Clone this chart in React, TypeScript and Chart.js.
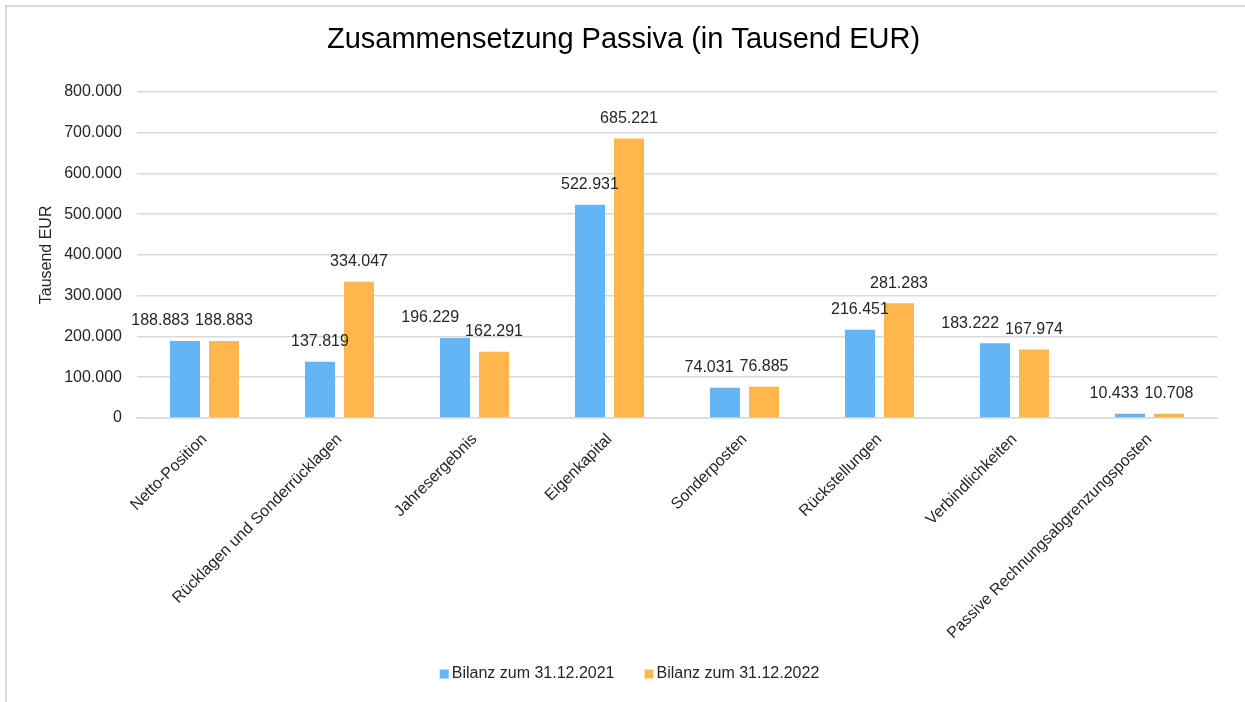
import React, { useEffect, useRef } from "react";
import { Chart, registerables } from "chart.js";

Chart.register(...registerables);

const chartTitle = "Zusammensetzung Passiva (in Tausend EUR)";
const yAxisTitle = "Tausend EUR";
const categories = [
  "Netto-Position",
  "Rücklagen und Sonderrücklagen",
  "Jahresergebnis",
  "Eigenkapital",
  "Sonderposten",
  "Rückstellungen",
  "Verbindlichkeiten",
  "Passive Rechnungsabgrenzungsposten",
];
const seriesNames = ["Bilanz zum 31.12.2021", "Bilanz zum 31.12.2022"];
const values2021 = [188883, 137819, 196229, 522931, 74031, 216451, 183222, 10433];
const values2022 = [188883, 334047, 162291, 685221, 76885, 281283, 167974, 10708];
const yMin = 0;
const yMax = 800000;
const yStep = 100000;

const FONT = "'Liberation Sans', Arial, Helvetica, sans-serif";
const TEXT = "#262626";
const COLORS = ["#64B5F6", "#FFB74D"];

const fmt = (v: number) =>
  Math.round(v).toString().replace(/\B(?=(\d{3})+(?!\d))/g, ".");

const dataLabelPlugin = {
  id: "dataLabels",
  afterDatasetsDraw(chart: any) {
    const ctx = chart.ctx;
    ctx.save();
    ctx.font = `16px ${FONT}`;
    ctx.fillStyle = TEXT;
    ctx.textAlign = "center";
    ctx.textBaseline = "middle";
    const n = chart.data.labels.length;
    for (let i = 0; i < n; i++) {
      const items = chart.data.datasets.map((ds: any, d: number) => {
        const el = chart.getDatasetMeta(d).data[i];
        const txt = fmt(ds.data[i]);
        return { x: el.x, y: el.y - 20, w: ctx.measureText(txt).width, txt };
      });
      for (let d = items.length - 2; d >= 0; d--) {
        const a = items[d];
        const b = items[d + 1];
        if (Math.abs(a.y - b.y) < 16) {
          const overlap = a.x + a.w / 2 - (b.x - b.w / 2) + 6;
          if (overlap > 0) a.x -= overlap;
        }
      }
      items.forEach((it: any) => ctx.fillText(it.txt, it.x, it.y));
    }
    ctx.restore();
  },
};

const legendPlugin = {
  id: "customLegend",
  afterDraw(chart: any) {
    const ctx = chart.ctx;
    ctx.save();
    ctx.font = `16px ${FONT}`;
    const box = 9;
    const gap = 3;
    const spacing = 30;
    const items = chart.data.datasets.map((ds: any) => ({
      text: ds.label,
      color: ds.backgroundColor,
      w: ctx.measureText(ds.label).width,
    }));
    const total =
      items.reduce((s: number, it: any) => s + box + gap + it.w, 0) +
      spacing * (items.length - 1);
    let x = chart.width / 2 - total / 2 + 7;
    const yc = chart.height - 28;
    ctx.textBaseline = "middle";
    ctx.textAlign = "left";
    items.forEach((it: any) => {
      ctx.fillStyle = it.color;
      ctx.fillRect(x, yc - box / 2, box, box);
      ctx.fillStyle = TEXT;
      ctx.fillText(it.text, x + box + gap, yc);
      x += box + gap + it.w + spacing;
    });
    ctx.restore();
  },
};

export default function App() {
  const canvasRef = useRef<HTMLCanvasElement | null>(null);

  useEffect(() => {
    document.body.style.margin = "0";
    const canvas = canvasRef.current;
    if (!canvas) return;
    const chart = new Chart(canvas, {
      type: "bar",
      data: {
        labels: categories,
        datasets: [
          {
            label: seriesNames[0],
            data: values2021,
            backgroundColor: COLORS[0],
            categoryPercentage: 0.578,
            barPercentage: 0.77,
          },
          {
            label: seriesNames[1],
            data: values2022,
            backgroundColor: COLORS[1],
            categoryPercentage: 0.578,
            barPercentage: 0.77,
          },
        ],
      },
      options: {
        animation: false,
        responsive: true,
        maintainAspectRatio: false,
        layout: { padding: { left: 30, right: 28, top: 0, bottom: 0 } },
        font: { family: FONT },
        plugins: {
          legend: { display: false },
          tooltip: { enabled: false },
          title: {
            display: true,
            text: chartTitle,
            color: "#000",
            font: { family: FONT, size: 29, weight: "normal" },
            padding: { top: 23, bottom: 34 },
          },
        },
        scales: {
          x: {
            grid: { display: false, drawTicks: false },
            border: { display: true, color: "#d9d9d9", width: 1.5 },
            ticks: {
              color: TEXT,
              font: { family: FONT, size: 16 },
              minRotation: 45,
              maxRotation: 45,
              autoSkip: false,
              padding: 12,
            },
            afterFit: (scale: any) => {
              scale.height = 284;
            },
          },
          y: {
            min: yMin,
            max: yMax,
            grid: { color: "#d9d9d9", lineWidth: 1.5, drawTicks: false },
            border: { display: false },
            ticks: {
              stepSize: yStep,
              color: TEXT,
              font: { family: FONT, size: 16 },
              padding: 15,
              callback: (v: any) => fmt(Number(v)),
            },
            title: {
              display: true,
              text: yAxisTitle,
              color: TEXT,
              font: { family: FONT, size: 16 },
              padding: { top: 7, bottom: 0 },
            },
            afterFit: (scale: any) => {
              scale.width = 107;
            },
          },
        },
      },
      plugins: [dataLabelPlugin, legendPlugin],
    } as any);
    return () => chart.destroy();
  }, []);

  return (
    <div style={{ position: "relative", width: 1245, height: 702, overflow: "hidden", background: "#fff" }}>
      <div
        style={{
          position: "absolute",
          left: 5,
          top: 5,
          width: 1300,
          height: 800,
          borderLeft: "2px solid #d9d9d9",
          borderTop: "2px solid #d9d9d9",
        }}
      />
      <canvas ref={canvasRef} style={{ position: "absolute", left: 0, top: 0 }} />
    </div>
  );
}
